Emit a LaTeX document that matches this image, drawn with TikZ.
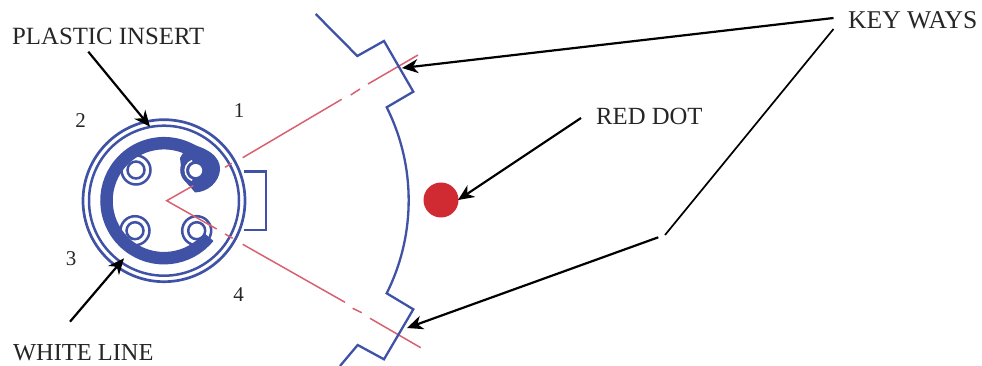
\documentclass[tikz,border=0pt]{standalone}
\usepackage{fontspec}
\setmainfont{Liberation Serif}
\usetikzlibrary{arrows.meta}
\definecolor{bluel}{HTML}{3F52A6}
\definecolor{redl}{HTML}{D8606F}
\definecolor{dotred}{HTML}{D02B33}
\definecolor{ink}{HTML}{262626}
\tikzset{
  x=1pt,y=1pt,
  label text/.style={inner sep=0pt,anchor=base west,text=ink},
  digit/.style={inner sep=0pt,anchor=base,text=ink,font=\fontsize{21}{21}\selectfont},
  blue line/.style={draw=bluel,line width=2.3pt,line join=miter},
  ring/.style={draw=bluel,line width=2.5pt},
  red line/.style={draw=redl,line width=1.5pt},
  pointer/.style={draw=black,line width=2.2pt,-{Stealth[length=16pt,width=14pt,inset=5pt]}},
  lead/.style={draw=black,line width=1.7pt},
}
\begin{document}
\begin{tikzpicture}
\useasboundingbox (0,0) rectangle (982,-366);
% connector body
\draw[ring] (244,-171.5) -- (266,-171.5) -- (266,-230) -- (244,-230);
\draw[ring,line width=2.7pt] (164,-200.7) circle[radius=81];
\draw[ring] (164,-200.7) circle[radius=75];
% thick insert
\draw[draw=bluel,line width=12.5pt] ([shift={(-39:57.5)}]164,-200.7) arc[start angle=-39,end angle=-310,radius=57.5];
\fill[bluel] (186,-143) .. controls (206,-147) and (221,-156) .. (220,-170)
  .. controls (219,-182) and (208,-192) .. (195,-192.5)
  .. controls (190,-186) and (182,-180) .. (181.7,-173)
  -- (180,-158) -- (183,-153) -- cycle;
\fill[bluel] (195.7,-170) circle[radius=15.5];
% pins
\foreach \n/\px/\py in {a/136/170,c/135/230.7,d/196.7/230.7}{
  \draw[ring] (\px,-\py) circle[radius=14.5];
  \draw[ring,fill=white] (\px,-\py) circle[radius=8.5];
}
\draw[white,line width=1.5pt] ([shift={(110:10.5)}]195.7,-170.5) arc[start angle=110,end angle=250,radius=10.5];
\fill[white] (195.7,-170.5) circle[radius=6.5];
% red centre lines
\coordinate (apex) at (166.7,-200.7);
\draw[red line] (193.3,-185.6) -- (apex) -- (216.7,-229);
\draw[red line] (225,-167.3) -- (231.7,-163.3);
\draw[red line] (242.7,-157.7) -- (341.7,-99.3);
\draw[red line] (350.7,-95) -- (360,-89);
\draw[red line] (368,-84) -- (418,-55);
\draw[red line] (225,-234) -- (232.7,-238.3);
\draw[red line] (242.7,-244.3) -- (345,-302.3);
\draw[red line] (352.7,-308.3) -- (361.7,-312.7);
\draw[red line] (370,-318.3) -- (420.7,-347.7);
% sector outline with key ways
\draw[blue line] (315.7,-14) -- (357.3,-56) -- (384,-41) -- (413.3,-91.7) -- (386.7,-107.3)
  .. controls (416,-165.8) and (416,-234.8) .. (386.7,-293.3)
  -- (413.3,-309.3) -- (384,-359.3) -- (357.7,-345) -- (340,-366);
% red dot
\fill[dotred] (441,-200) circle[radius=17.5];
% labels
\node[label text,font=\fontsize{24.8}{25}\selectfont] (plastic) at (12,-44.3) {PLASTIC INSERT};
\node[label text,font=\fontsize{24.4}{25}\selectfont] (white) at (13,-360.7) {WHITE LINE};
\node[label text,font=\fontsize{24.7}{25}\selectfont] (reddot) at (596,-124.3) {RED DOT};
\node[label text,font=\fontsize{25.6}{26}\selectfont] (keyways) at (848,-28.3) {KEY WAYS};
\node[digit] (n1) at (239,-117.3) {1};
\node[digit] (n2) at (80.7,-127.3) {2};
\node[digit] (n3) at (71,-265) {3};
\node[digit] (n4) at (238.7,-301) {4};
% pointers
\coordinate (pa) at (88.3,-51.7);
\coordinate (pb) at (150,-126.7);
\coordinate (wa) at (70,-321.7);
\coordinate (wb) at (124,-258.3);
\coordinate (ra) at (581,-118);
\coordinate (rb) at (458,-200);
\coordinate (ka) at (833.5,-18);
\coordinate (kb) at (402,-68);
\coordinate (la) at (833.5,-29);
\coordinate (lb) at (665,-235);
\coordinate (lc) at (658.3,-237.3);
\coordinate (ld) at (407,-328);
\draw[pointer] (pa) -- (pb);
\draw[pointer] (wa) -- (wb);
\draw[pointer] (ra) -- (rb);
\draw[pointer] (ka) -- (kb);
\draw[lead] (la) -- (lb);
\draw[pointer] (lc) -- (ld);
\end{tikzpicture}
\end{document}
